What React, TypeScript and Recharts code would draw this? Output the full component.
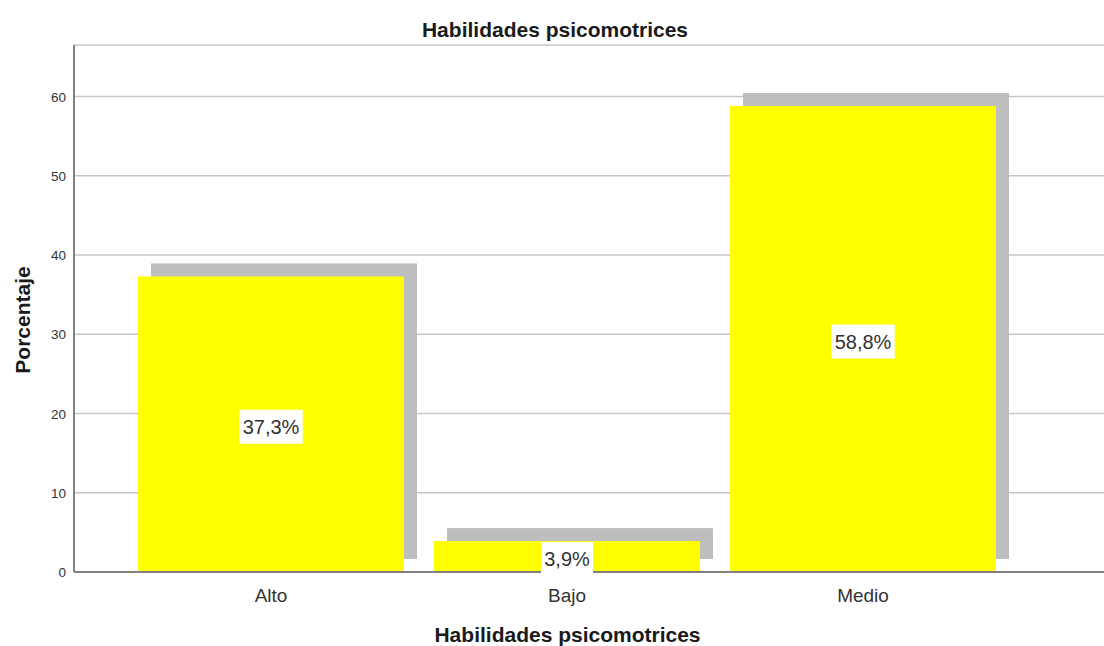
import React from 'react';
import { BarChart, Bar, XAxis, YAxis, CartesianGrid, LabelList } from 'recharts';

const categories = ['Alto', 'Bajo', 'Medio'];
const percentages = [37.3, 3.9, 58.8];
const valueLabels = ['37,3%', '3,9%', '58,8%'];
const yTicks = [0, 10, 20, 30, 40, 50, 60];

const chartTitle = 'Habilidades psicomotrices';
const xTitle = 'Habilidades psicomotrices';
const yTitle = 'Porcentaje';

const data = categories.map((c, i) => ({ name: c, value: percentages[i], label: valueLabels[i] }));

const FONT = '"Liberation Sans", Arial, Helvetica, sans-serif';
const SHADOW = 13;

const ShadowBar = (props: any) => {
  const { x, y, width, height } = props;
  return (
    <g>
      <rect x={x + SHADOW} y={y - SHADOW} width={width} height={height} fill="#bebebe" />
      <rect x={x} y={y} width={width} height={height} fill="#ffff00" />
    </g>
  );
};

const ValueLabel = (props: any) => {
  const { x, y, width, height, value } = props;
  const text = String(value);
  const fs = 20;
  const boxW = text.length * 11.5 + 6;
  const boxH = 34;
  const mid = y + height / 2;
  const cy = Math.max(mid + 2.5, y + boxH / 2 + 1);
  const cx = x + width / 2;
  return (
    <g>
      <rect x={cx - boxW / 2} y={cy - boxH / 2} width={boxW} height={boxH} fill="#ffffff" />
      <text x={cx} y={cy + fs * 0.358} textAnchor="middle" fontSize={fs} fontFamily={FONT} fill="#333333">
        {text}
      </text>
    </g>
  );
};

const XTick = (props: any) => {
  const { x, y, payload } = props;
  return (
    <text x={x} y={y + 30} textAnchor="middle" fontSize={19} fontFamily={FONT} fill="#333333">
      {payload.value}
    </text>
  );
};

const YTick = (props: any) => {
  const { x, y, payload } = props;
  return (
    <text x={x} y={y + 5} textAnchor="end" fontSize={13.5} fontFamily={FONT} fill="#333333">
      {payload.value}
    </text>
  );
};

export default function App() {
  return (
    <div style={{ position: 'absolute', left: 0, top: 0, width: 1104, height: 646, background: '#ffffff' }}>
      <BarChart
        width={1104}
        height={646}
        data={data}
        margin={{ top: 45, right: 0, bottom: 0, left: 0 }}
        barSize={266}
      >
        <CartesianGrid horizontal vertical={false} stroke="#c6c6c6" strokeWidth={1.5} />
        <XAxis
          dataKey="name"
          height={74}
          padding={{ left: 49, right: 93 }}
          axisLine={{ stroke: '#808080', strokeWidth: 2 }}
          tickLine={false}
          tickSize={0}
          tickMargin={0}
          tick={<XTick />}
          interval={0}
        />
        <YAxis
          width={74}
          domain={[0, 66.5]}
          ticks={yTicks}
          allowDataOverflow
          axisLine={{ stroke: '#808080', strokeWidth: 2 }}
          tickLine={false}
          tickSize={0}
          tickMargin={8}
          tick={<YTick />}
        />
        <Bar dataKey="value" shape={<ShadowBar />} isAnimationActive={false}>
          <LabelList dataKey="label" content={<ValueLabel />} />
        </Bar>
      </BarChart>
      <svg
        width={1104}
        height={646}
        style={{ position: 'absolute', left: 0, top: 0, pointerEvents: 'none' }}
      >
        <text x={555} y={36.5} textAnchor="middle" fontSize={21} fontWeight="bold" fontFamily={FONT} fill="#1a1a1a">
          {chartTitle}
        </text>
        <text x={567.5} y={642} textAnchor="middle" fontSize={21} fontWeight="bold" fontFamily={FONT} fill="#1a1a1a">
          {xTitle}
        </text>
        <text
          x={29.5}
          y={320}
          transform="rotate(-90 29.5 320)"
          textAnchor="middle"
          fontSize={21}
          fontWeight="bold"
          fontFamily={FONT}
          fill="#1a1a1a"
        >
          {yTitle}
        </text>
      </svg>
    </div>
  );
}
